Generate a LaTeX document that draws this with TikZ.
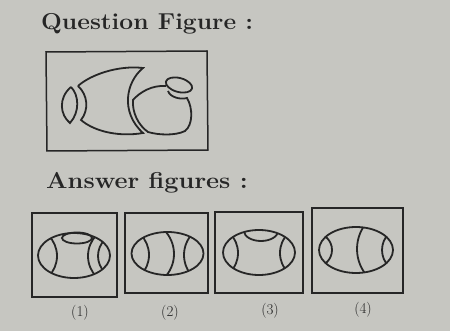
\documentclass[tikz,border=0pt]{standalone}
\usepackage{tikz}
\usetikzlibrary{positioning}
\definecolor{paper}{RGB}{198,198,193}
\definecolor{inkgray}{RGB}{38,38,38}
\tikzset{
  ink/.style={draw=inkgray, line width=1.8pt},
  frame/.style={draw=inkgray, line width=1.5pt},
  headtext/.style={text=inkgray, font=\bfseries\fontsize{23}{26}\selectfont, anchor=west, inner sep=0pt},
  numtext/.style={text=inkgray, font=\fontsize{15}{17}\selectfont, inner sep=0pt}
}
\begin{document}
\begin{tikzpicture}[x=1pt, y=-1pt]
% Sfondo carta
\fill[paper] (0,0) rectangle (450,331);
\useasboundingbox (0,0) rectangle (450,331);
% Titoli
\node[headtext] (qtitle) at (41,24) {\scalebox{1.07}[1]{Question Figure :}};
\node[headtext] (atitle) at (46,183) {\scalebox{1.1}[1]{Answer figures :}};
% Figura domanda
\draw[frame] (46,52) -- (207,51) -- (208,150) -- (47,151) -- cycle;
% lente a sinistra
\draw[ink] (71,87) .. controls (58,98) and (60,115) .. (70,123)
  .. controls (80,112) and (79,95) .. (71,87);
% pesce
\draw[ink] (78,86) .. controls (90,75) and (118,65) .. (143,68)
  .. controls (126,82) and (120,112) .. (143,133)
  .. controls (120,137) and (95,132) .. (81,120)
  .. controls (89,110) and (88,95) .. (78,86);
% forma a destra
\draw[ink] (166,86) .. controls (152,85) and (140,92) .. (133,100)
  .. controls (132,112) and (138,125) .. (148,132)
  .. controls (158,135) and (175,136) .. (185,131)
  .. controls (193,125) and (193,108) .. (187,98)
  .. controls (180,100) and (170,97) .. (168,91);
\draw[ink, rotate around={-15:(179,85)}] (179,85) ellipse [x radius=13.5, y radius=7];
% Figure risposta: cornici
\draw[frame] (32,213) rectangle (117,297);
\draw[frame] (125,213) rectangle (208,293);
\draw[frame] (215,212) rectangle (303,293);
\draw[frame] (312,208) rectangle (403,293);
% (1)
\draw[ink] (74,255.5) ellipse [x radius=36, y radius=22.5];
\begin{scope}
  \clip (74,255.5) ellipse [x radius=36, y radius=22.5];
  \draw[ink] (28,256) circle [radius=29];
  \draw[ink] (118,256) circle [radius=30];
  \draw[ink] (121,256) circle [radius=23];
\end{scope}
\draw[ink] (77,238) ellipse [x radius=15, y radius=5.5];
% (2)
\draw[ink] (167.5,253.5) ellipse [x radius=36, y radius=21.5];
\begin{scope}
  \clip (167.5,253.5) ellipse [x radius=36, y radius=21.5];
  \draw[ink] (120,255) circle [radius=29];
  \draw[ink] (140,254) circle [radius=34];
  \draw[ink] (215,255) circle [radius=31];
\end{scope}
% (3)
\draw[ink] (259,252.5) ellipse [x radius=36, y radius=22.5];
\begin{scope}
  \clip (259,252.5) ellipse [x radius=36, y radius=22.5];
  \draw[ink] (261,231) ellipse [x radius=17, y radius=10];
  \draw[ink] (210,253) circle [radius=28];
  \draw[ink] (308,253) circle [radius=28];
\end{scope}
% (4)
\draw[ink] (356,250) ellipse [x radius=37, y radius=23];
\begin{scope}
  \clip (356,250) ellipse [x radius=37, y radius=23];
  \draw[ink] (315,250) circle [radius=17];
  \draw[ink] (398,249) circle [radius=41];
  \draw[ink] (405,250) circle [radius=23];
\end{scope}
% Numeri
\node[numtext] (n1) at (80,313) {(1)};
\node[numtext] (n2) at (170,313) {(2)};
\node[numtext] (n3) at (270,311) {(3)};
\node[numtext] (n4) at (363,310) {(4)};
\end{tikzpicture}
\end{document}
